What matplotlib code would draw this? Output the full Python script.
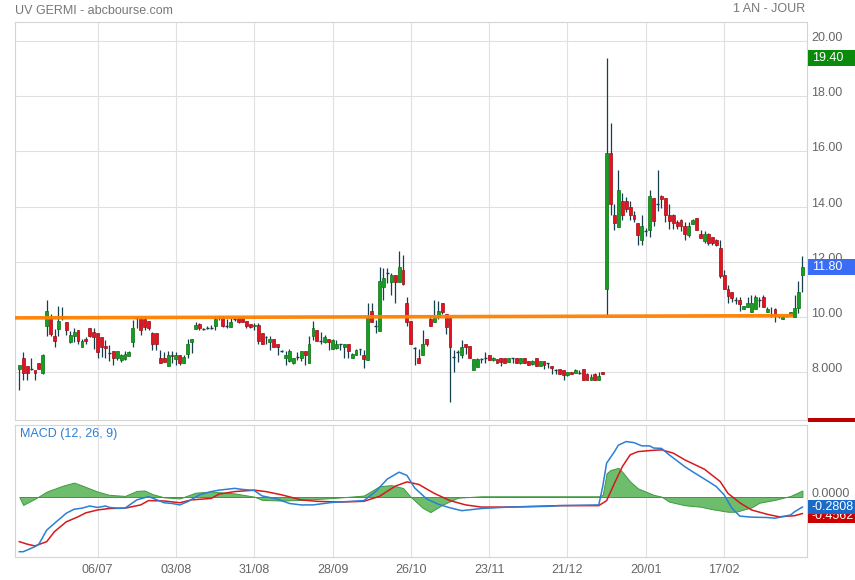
import matplotlib
matplotlib.use('Agg')
import matplotlib.pyplot as plt
import matplotlib.transforms as mtransforms
from matplotlib.patches import Rectangle
import numpy as np

plt.rcParams['font.family'] = ['Liberation Sans', 'DejaVu Sans']

# ---------------- data ----------------
opens = [8.11, 8.53, 8.21, 8.10, 8.07, 8.32, 7.98, 9.66, 9.92, 9.33,
         9.58, 9.97, 9.81, 9.10, 9.31, 9.52, 8.92, 9.20, 9.59, 9.47,
         9.42, 9.26, 8.95, 8.70, 8.76, 8.52, 8.45, 8.49, 8.59, 9.10,
         9.95, 9.93, 9.92, 9.84, 9.44, 9.41, 8.50, 8.50, 8.23, 8.64,
         8.47, 8.62, 8.35, 8.66, 9.10, 9.55, 9.75, 9.57, 9.59, 9.59,
         9.69, 9.95, 9.98, 9.66, 9.65, 9.92, 9.98, 9.98, 9.85, 9.75,
         9.66, 9.71, 9.43, 9.26, 9.10, 9.19, 9.01, 8.77, 8.52, 8.40,
         8.32, 8.53, 8.53, 8.76, 8.34, 9.31, 9.53, 9.13, 9.10, 9.20,
         8.86, 8.88, 9.01, 8.92, 9.01, 8.50, 8.62, 8.82, 8.62, 8.44,
         10.22, 9.65, 9.49, 11.10, 11.59, 11.28, 11.53, 11.28, 11.71, 10.50,
         9.85, 8.88, 8.50, 8.64, 9.19, 9.93, 9.83, 10.01, 10.50, 10.10,
         9.95, 8.53, 8.70, 8.64, 9.02, 8.95, 8.07, 8.19, 8.50, 8.53,
         8.62, 8.44, 8.47, 8.50, 8.50, 8.38, 8.50, 8.50, 8.34, 8.50,
         8.41, 8.29, 8.50, 8.23, 8.40, 8.32, 8.23, 8.07, 8.10, 8.07,
         7.89, 8.00, 7.98, 7.99, 8.11, 7.95, 7.73, 7.95, 7.73, 8.01,
         11.00, 15.93, 13.71, 13.28, 14.22, 14.22, 13.99, 13.71, 13.41, 12.78,
         13.12, 13.16, 14.31, 14.10, 14.40, 14.31, 13.71, 13.71, 13.43, 13.53,
         13.31, 12.98, 13.38, 13.59, 13.02, 12.74, 13.02, 12.90, 12.80, 12.50,
         11.53, 11.00, 10.90, 10.62, 10.62, 10.30, 10.37, 10.19, 10.30, 10.59,
         10.71, 10.19, 10.05, 10.30, 10.05, 9.92, 10.04, 10.07, 10.01, 10.32,
         11.53]
highs = [8.27, 8.73, 8.22, 8.50, 8.08, 8.34, 8.66, 10.62, 10.10, 9.55,
         10.40, 10.35, 9.82, 9.50, 9.59, 9.53, 9.19, 9.29, 9.61, 9.61,
         9.43, 9.27, 9.16, 8.98, 8.77, 8.77, 8.65, 8.76, 8.76, 9.89,
         10.02, 10.00, 10.04, 9.85, 9.45, 9.42, 8.80, 8.74, 8.76, 8.76,
         8.74, 8.63, 8.62, 9.19, 9.22, 9.83, 9.80, 9.60, 9.69, 9.71,
         10.04, 10.05, 10.04, 9.92, 9.95, 9.95, 10.00, 10.00, 9.86, 9.76,
         9.77, 9.77, 9.44, 9.31, 9.31, 9.20, 9.02, 8.80, 8.76, 8.86,
         8.52, 8.74, 8.77, 8.77, 9.31, 9.85, 9.54, 9.47, 9.35, 9.21,
         9.19, 9.16, 9.04, 9.04, 9.02, 8.70, 8.86, 8.86, 8.80, 10.52,
         10.52, 9.89, 11.83, 11.77, 11.77, 11.59, 11.54, 12.40, 12.25, 10.74,
         9.86, 8.92, 8.86, 9.53, 9.20, 10.07, 10.62, 10.58, 10.52, 10.11,
         10.01, 8.80, 8.80, 9.16, 9.03, 8.96, 8.48, 8.52, 8.51, 8.74,
         8.63, 8.55, 8.48, 8.51, 8.51, 8.51, 8.51, 8.51, 8.51, 8.51,
         8.42, 8.44, 8.51, 8.41, 8.41, 8.34, 8.24, 8.13, 8.11, 8.08,
         8.01, 8.01, 8.11, 8.07, 8.12, 7.96, 7.93, 7.96, 8.01, 8.02,
         19.40, 17.02, 14.11, 15.31, 14.50, 14.34, 14.22, 13.83, 13.42, 13.71,
         13.22, 14.62, 14.32, 15.31, 14.41, 14.32, 14.11, 13.72, 13.53, 13.54,
         13.43, 13.43, 13.54, 13.60, 13.16, 13.10, 13.03, 12.91, 12.81, 12.80,
         11.71, 11.16, 10.91, 10.74, 10.74, 10.41, 10.74, 10.80, 10.80, 10.74,
         10.80, 10.37, 10.38, 10.31, 10.06, 10.04, 10.05, 10.20, 10.80, 11.29,
         12.22]
lows = [7.37, 7.71, 7.73, 8.08, 7.71, 8.10, 7.93, 9.32, 9.32, 8.92,
        9.32, 9.88, 9.35, 9.07, 9.10, 9.04, 8.90, 9.04, 9.29, 8.86,
        8.52, 8.56, 8.50, 8.40, 8.28, 8.44, 8.38, 8.46, 8.59, 8.92,
        9.62, 9.35, 9.53, 9.53, 8.82, 8.82, 8.32, 8.38, 8.23, 8.35,
        8.26, 8.26, 8.32, 8.52, 8.68, 9.55, 9.53, 9.54, 9.58, 9.58,
        9.53, 9.90, 9.65, 9.59, 9.65, 9.85, 9.80, 9.83, 9.59, 9.59,
        9.53, 9.04, 9.02, 9.04, 8.82, 8.92, 8.62, 8.72, 8.28, 8.38,
        8.29, 8.44, 8.41, 8.28, 8.34, 9.16, 9.14, 9.04, 9.07, 8.82,
        8.84, 8.86, 8.80, 8.53, 8.50, 8.50, 8.62, 8.62, 8.16, 8.44,
        9.83, 9.43, 9.49, 10.62, 11.22, 10.80, 10.52, 11.28, 11.16, 9.67,
        9.01, 8.25, 8.32, 8.64, 8.95, 9.68, 9.83, 9.93, 10.10, 9.37,
        6.92, 8.01, 8.38, 8.50, 8.65, 8.50, 8.07, 8.19, 8.34, 8.34,
        8.44, 8.42, 8.34, 8.23, 8.34, 8.37, 8.34, 8.32, 8.29, 8.34,
        8.25, 8.25, 8.23, 8.23, 8.13, 8.16, 7.95, 7.95, 7.95, 7.73,
        7.86, 7.94, 7.97, 7.95, 7.73, 7.73, 7.73, 7.73, 7.73, 7.94,
        10.07, 13.71, 13.14, 13.28, 13.53, 13.81, 13.53, 13.43, 12.62, 12.62,
        12.92, 12.90, 13.31, 13.83, 13.95, 13.43, 13.20, 13.20, 13.20, 13.10,
        12.80, 12.90, 13.38, 13.14, 12.86, 12.68, 12.62, 12.62, 12.56, 11.43,
        11.00, 10.52, 10.56, 10.47, 10.23, 10.30, 10.37, 10.19, 10.30, 10.38,
        10.38, 10.19, 10.00, 9.83, 9.95, 9.92, 10.02, 10.06, 10.01, 10.14,
        10.92]
closes = [8.26, 7.99, 7.98, 8.10, 7.99, 8.12, 8.64, 10.22, 9.39, 9.14,
          9.85, 10.02, 9.53, 9.35, 9.46, 9.14, 9.15, 9.14, 9.32, 9.29,
          8.74, 8.90, 8.89, 8.69, 8.52, 8.76, 8.64, 8.65, 8.73, 9.59,
          9.97, 9.52, 9.65, 9.59, 9.04, 9.01, 8.32, 8.38, 8.64, 8.58,
          8.62, 8.35, 8.56, 9.01, 9.20, 9.71, 9.59, 9.56, 9.59, 9.60,
          9.92, 9.98, 9.69, 9.67, 9.82, 9.92, 9.81, 9.83, 9.69, 9.65,
          9.71, 9.14, 9.04, 9.26, 9.19, 8.92, 8.92, 8.76, 8.62, 8.76,
          8.50, 8.54, 8.76, 8.62, 9.02, 9.59, 9.14, 9.14, 9.27, 9.10,
          9.16, 9.04, 9.02, 9.02, 8.76, 8.67, 8.80, 8.83, 8.47, 9.98,
          9.83, 9.66, 11.31, 11.41, 11.60, 11.53, 11.28, 11.82, 11.19, 9.83,
          9.01, 8.89, 8.32, 9.04, 9.02, 9.68, 9.98, 10.22, 10.19, 9.65,
          8.92, 8.54, 8.72, 8.92, 8.92, 8.50, 8.47, 8.47, 8.49, 8.52,
          8.44, 8.52, 8.35, 8.38, 8.34, 8.50, 8.50, 8.32, 8.50, 8.34,
          8.25, 8.40, 8.23, 8.40, 8.25, 8.32, 8.17, 8.07, 7.95, 7.89,
          8.01, 7.95, 8.07, 7.99, 7.73, 7.73, 7.83, 7.73, 7.85, 7.95,
          15.93, 14.11, 13.41, 14.62, 13.69, 13.92, 13.69, 13.56, 12.98, 13.31,
          13.13, 14.40, 13.49, 14.11, 14.29, 13.69, 13.49, 13.41, 13.29, 13.29,
          13.01, 13.31, 13.53, 13.16, 12.86, 13.02, 12.70, 12.68, 12.60, 11.49,
          11.00, 10.78, 10.70, 10.63, 10.47, 10.40, 10.50, 10.50, 10.71, 10.60,
          10.38, 10.30, 10.06, 10.07, 10.02, 10.01, 10.04, 10.19, 10.32, 10.90,
          11.80]

tick_idx = [20, 40, 60, 80, 100, 120, 140, 160, 180]
tick_labels = ['06/07', '03/08', '31/08', '28/09', '26/10', '23/11', '21/12', '20/01', '17/02']
price_ticks = [8, 10, 12, 14, 16, 18, 20]
price_tick_labels = ['8.000', '10.00', '12.00', '14.00', '16.00', '18.00', '20.00']

trend_x = [-1.1, 197.6]
trend_y = [9.97, 10.05]

macd_x = [0, 1, 4, 5, 7, 9, 12, 14, 16, 18, 20, 22, 23, 25, 27, 30, 33, 34, 37, 39,
          41, 43, 46, 49, 51, 55, 57, 60, 62, 66, 69, 72, 75, 80, 85, 88, 91, 94, 97, 99,
          101, 104, 107, 110, 113, 118, 125, 135, 138, 143, 148, 149, 150, 152, 153, 155, 157, 159, 161, 162,
          164, 166, 170, 172, 176, 178, 180, 182, 184, 187, 191, 193, 197, 198, 200]
macd_v = [-1.52, -1.52, -1.38, -1.31, -0.92, -0.73, -0.45, -0.34, -0.31, -0.25, -0.29, -0.25, -0.29, -0.31, -0.31, -0.08, 0.01, -0.03, -0.16, -0.18,
          -0.22, -0.13, 0.06, 0.15, 0.19, 0.24, 0.21, 0.18, 0.03, -0.06, -0.18, -0.22, -0.22, -0.15, -0.12, -0.10, 0.15, 0.50, 0.69, 0.60,
          0.25, -0.05, -0.20, -0.30, -0.38, -0.32, -0.28, -0.26, -0.24, -0.23, -0.22, 0.29, 0.94, 1.26, 1.44, 1.54, 1.51, 1.42, 1.42, 1.36,
          1.35, 1.17, 0.84, 0.70, 0.43, 0.29, 0.06, -0.31, -0.53, -0.56, -0.57, -0.59, -0.50, -0.41, -0.28]
sig_x = [0, 2, 4, 7, 9, 12, 15, 17, 20, 23, 27, 31, 33, 37, 41, 44, 49, 51, 55, 60,
         63, 67, 72, 76, 82, 88, 92, 96, 99, 102, 106, 110, 114, 118, 125, 138, 148, 150, 152, 154,
         156, 158, 161, 164, 167, 170, 175, 179, 181, 184, 187, 191, 194, 198, 200]
sig_v = [-1.24, -1.31, -1.36, -1.24, -0.96, -0.69, -0.55, -0.44, -0.36, -0.32, -0.31, -0.22, -0.10, -0.11, -0.16, -0.08, -0.04, 0.08, 0.15, 0.19,
         0.15, 0.06, -0.08, -0.12, -0.14, -0.12, 0.02, 0.30, 0.42, 0.35, 0.10, -0.10, -0.22, -0.28, -0.28, -0.24, -0.24, -0.10, 0.38, 0.84,
         1.17, 1.26, 1.29, 1.31, 1.22, 1.03, 0.77, 0.43, 0.10, -0.16, -0.36, -0.48, -0.55, -0.52, -0.46]
hist_x = [0, 1, 4, 7, 11, 14, 16, 20, 23, 27, 30, 32, 34, 37, 41, 45, 49, 55, 60, 62,
          67, 72, 80, 88, 92, 95, 98, 100, 103, 105, 108, 112, 118, 148, 149, 150, 151, 153, 154, 156,
          158, 160, 162, 164, 166, 170, 174, 177, 181, 183, 187, 189, 193, 197, 200]
hist_v = [0.0, -0.22, -0.05, 0.15, 0.31, 0.40, 0.32, 0.15, 0.06, 0.03, 0.17, 0.18, 0.08, -0.01, -0.04, 0.12, 0.15, 0.10, 0.01, -0.08,
          -0.10, -0.08, -0.03, 0.04, 0.30, 0.33, 0.25, 0.0, -0.30, -0.42, -0.22, -0.02, 0.02, 0.02, 0.06, 0.66, 0.75, 0.81, 0.70, 0.43,
          0.24, 0.15, 0.06, 0.01, -0.13, -0.23, -0.27, -0.34, -0.41, -0.41, -0.29, -0.16, -0.08, 0.03, 0.18]

high_label = 19.40
last_close = 11.80
macd_last = -0.2808
signal_last = -0.4562

# ---------------- styling ----------------
GREEN = '#14a01e'
GREEN_E = '#0b6e14'
RED = '#e8121e'
RED_E = '#9a0c14'
WICK = '#163f4e'
GRID = '#e0e0e0'
SPINE = '#d4d4d4'
TXT = '#666666'

W, H = 855, 580
fig = plt.figure(figsize=(W / 100, H / 100), dpi=100)
L, R = 15, 806.7
ax = fig.add_axes([L / W, 1 - 420 / H, (R - L) / W, 398 / H])
mx = fig.add_axes([L / W, 1 - 557 / H, (R - L) / W, 132 / H], sharex=ax)

x = np.arange(len(opens))
o = np.array(opens); h = np.array(highs); l = np.array(lows); c = np.array(closes)
up = c > o + 0.025
dn = c < o - 0.025
dj = ~(up | dn)
bw = 0.74

ax.vlines(x, l, h, color=WICK, lw=0.9, zorder=3)
ax.bar(x[up], (c - o)[up], bottom=o[up], width=bw, color=GREEN, edgecolor=GREEN_E, lw=0.5, zorder=4)
ax.bar(x[dn], (o - c)[dn], bottom=c[dn], width=bw, color=RED, edgecolor=RED_E, lw=0.5, zorder=4)
ax.hlines(c[dj], x[dj] - bw / 2, x[dj] + bw / 2, color=WICK, lw=1.0, zorder=4)

ax.plot(trend_x, trend_y, color='#ff8000', lw=2.6, alpha=0.95, solid_capstyle='butt', zorder=5)

ymin, ymax = 6.27, 20.69
ax.set_xlim(-1.1, 201.1)
ax.set_ylim(ymin, ymax)
ax.set_xticks(tick_idx)
ax.set_yticks(price_ticks)
ax.grid(True, color=GRID, lw=0.8, zorder=0)
ax.tick_params(axis='both', length=0, labelleft=False, labelbottom=False)
for s in ax.spines.values():
    s.set_color(SPINE)
    s.set_linewidth(0.8)

# right-side price labels
trans_r = mtransforms.blended_transform_factory(ax.transAxes, ax.transData)
trans_up = mtransforms.offset_copy(trans_r, fig=fig, x=4.5, y=3, units='dots')
for p, lab in zip(price_ticks, price_tick_labels):
    ax.text(1.0, p, lab, transform=trans_up, ha='left', va='center', fontsize=9, color=TXT, clip_on=False)

ppu_main = 398 / (ymax - ymin)


def value_box(axis, value, text, fc, ppu, hpx=16, dy_px=0, zorder=10):
    tr = mtransforms.blended_transform_factory(axis.transAxes, axis.transData)
    yc = value - dy_px / ppu
    axis.add_patch(Rectangle((1.0016, yc - hpx / 2 / ppu), 0.06, hpx / ppu, transform=tr,
                             facecolor=fc, edgecolor='none', clip_on=False, zorder=zorder))
    trt = mtransforms.offset_copy(tr, fig=fig, x=4, y=0, units='dots')
    axis.text(1.0016, yc, text, transform=trt, ha='left', va='center', fontsize=9,
              color='white', clip_on=False, zorder=zorder + 1)


value_box(ax, high_label, '%.2f' % high_label, '#0a8a0a', ppu_main)
value_box(ax, last_close, '%.2f' % last_close, '#3a6cf5', ppu_main)
# clipped red marker at the bottom of the price panel
ax.add_patch(Rectangle((1.0016, -0.006), 0.06, 0.011, transform=ax.transAxes,
                       facecolor='#c00000', edgecolor='none', clip_on=False, zorder=10))

# ---------------- MACD panel ----------------
mymin, mymax = -1.667, 2.0
mx.fill_between(hist_x, 0, hist_v, facecolor='#6dbd6d', edgecolor='#3f9a3f', lw=0.7, zorder=2)
mx.plot(sig_x, sig_v, color='#d7191c', lw=1.1, zorder=3)
mx.plot(macd_x, macd_v, color='#2b7fd6', lw=1.1, zorder=4)
mx.set_ylim(mymin, mymax)
mx.set_yticks([])
mx.set_xticks(tick_idx)
mx.set_xticklabels(tick_labels)
mx.grid(True, axis='x', color=GRID, lw=0.8, zorder=0)
mx.tick_params(axis='x', length=0, pad=5, labelsize=9, labelcolor=TXT)
mx.tick_params(axis='y', length=0)
for s in mx.spines.values():
    s.set_color(SPINE)
    s.set_linewidth(0.8)
mx.text(4.5 / (R - L), 1 - 9 / 132, 'MACD (12, 26, 9)', transform=mx.transAxes,
        ha='left', va='center', fontsize=9, color='#2b7fd6')

ppu_macd = 132 / (mymax - mymin)
trm = mtransforms.blended_transform_factory(mx.transAxes, mx.transData)
mx.text(1.0, 0.0, '0.0000', transform=mtransforms.offset_copy(trm, fig=fig, x=4.5, y=3, units='dots'),
        ha='left', va='center', fontsize=9, color=TXT, clip_on=False)
value_box(mx, signal_last, '%.4f' % signal_last, '#cc0000', ppu_macd, hpx=14, dy_px=3, zorder=10)
value_box(mx, macd_last, '%.4f' % macd_last, '#1a6acb', ppu_macd, hpx=14, dy_px=0, zorder=12)

# ---------------- header ----------------
fig.text(15 / W, 1 - 10.5 / H, 'UV GERMI - abcbourse.com', ha='left', va='center', fontsize=9, color='#777777')
fig.text(805 / W, 1 - 9.5 / H, '1 AN - JOUR', ha='right', va='center', fontsize=9, color='#777777')

fig.savefig('out.png', dpi=100)
